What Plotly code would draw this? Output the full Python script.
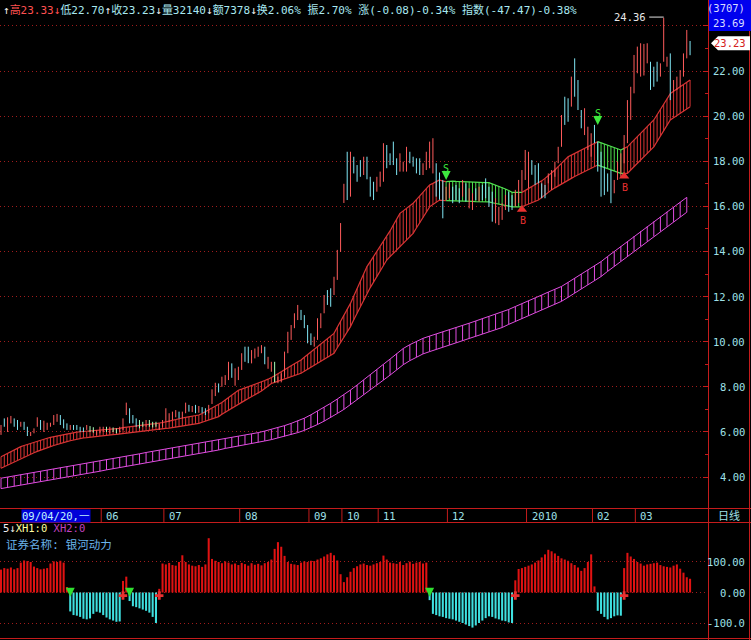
import plotly.graph_objects as go

# ---------------- data ----------------
header_text = ["↑", "高23.33", "↓", "低22.70", "↑", "收23.23", "↓", "量32140", "↓", "额7378",
               "↓", "换2.06%", " 振2.70%", " 涨(-0.08)-0.34%", " 指数(-47.47)-0.38%"]
quote_code = "(3707)"
quote_price = "23.69"
last_close = 23.23
start_label = "09/04/20,一"
period_label = "日线"
panel_title = ["5", "↓", "XH1:0", "XH2:0"]
stock_label = "证券名称: 银河动力"

high = [
    6.31, 6.60, 6.65, 6.71, 6.60, 6.53, 6.45, 6.45, 6.23, 6.00,
    6.16, 6.65, 6.53, 6.50, 6.41, 6.41, 6.75, 6.80, 6.75, 6.56,
    6.38, 6.31, 6.31, 6.31, 6.23, 6.20, 6.31, 6.26, 6.21, 6.09,
    6.23, 6.23, 6.23, 6.23, 6.20, 6.16, 6.23, 6.60, 7.30, 7.05,
    6.75, 6.60, 6.53, 6.45, 6.53, 6.53, 6.45, 6.45, 6.38, 6.53,
    7.05, 6.83, 6.90, 6.97, 6.90, 6.90, 7.30, 7.20, 7.15, 7.20,
    7.15, 7.10, 7.05, 7.20, 7.89, 8.18, 8.15, 8.45, 8.52, 9.11,
    9.04, 8.82, 8.89, 9.49, 9.78, 9.78, 9.63, 9.70, 9.78, 9.85,
    9.78, 9.33, 9.11, 9.11, 8.45, 8.60, 9.56, 10.44, 10.74, 11.26,
    11.63, 11.41, 11.18, 10.74, 10.37, 10.22, 11.04, 11.26, 12.07, 12.29,
    12.37, 12.88, 14.07, 15.26, 17.00, 18.42, 18.42, 18.20, 17.83, 18.05,
    18.20, 18.20, 17.31, 17.09, 17.31, 17.54, 18.80, 18.72, 18.35, 18.87,
    18.13, 18.35, 17.98, 18.64, 18.42, 18.20, 18.13, 18.13, 17.91, 18.42,
    18.87, 19.02, 17.91, 17.50, 17.17, 16.87, 17.02, 16.87, 16.95, 16.80,
    17.17, 17.02, 16.80, 16.58, 16.80, 16.87, 16.95, 17.24, 16.87, 16.65,
    16.36, 15.98, 16.14, 16.50, 16.65, 16.50, 16.73, 17.17, 17.61, 18.50,
    18.42, 18.05, 17.83, 17.91, 17.02, 16.95, 17.46, 17.61, 17.98, 18.64,
    20.05, 20.86, 20.79, 21.75, 22.56, 21.60, 20.27, 20.35, 19.53, 19.24,
    19.61, 18.87, 18.42, 17.76, 17.46, 17.61, 17.17, 17.98, 18.35, 19.16,
    20.71, 21.30, 22.71, 23.08, 23.23, 23.20, 23.23, 22.41, 22.19, 22.41,
    22.34, 24.36, 22.63, 22.78, 21.60, 21.75, 22.04, 22.78, 23.82, 23.33,
]
low = [
    5.87, 6.23, 6.00, 6.38, 6.23, 6.09, 6.23, 6.09, 5.82, 5.82,
    5.94, 6.23, 6.09, 6.00, 6.09, 6.23, 6.31, 6.45, 6.31, 6.16,
    6.09, 6.09, 6.09, 6.09, 6.00, 6.00, 6.09, 6.00, 5.97, 5.87,
    5.94, 6.00, 6.00, 5.94, 6.00, 5.94, 6.00, 6.09, 6.75, 6.38,
    6.38, 6.23, 6.16, 6.23, 6.23, 6.23, 6.20, 6.23, 6.09, 6.23,
    6.45, 6.45, 6.53, 6.65, 6.60, 6.60, 6.83, 6.90, 6.88, 6.83,
    6.85, 6.83, 6.75, 6.83, 7.24, 7.59, 7.75, 8.00, 8.08, 8.30,
    8.40, 8.05, 8.30, 8.75, 9.11, 9.05, 9.04, 9.26, 9.33, 9.49,
    9.00, 8.80, 8.67, 8.20, 8.16, 8.20, 8.45, 9.49, 10.08, 10.60,
    10.96, 10.96, 10.60, 9.93, 9.85, 9.78, 10.08, 10.60, 11.26, 11.63,
    11.55, 12.07, 12.74, 13.98, 16.15, 16.28, 16.43, 17.46, 17.09, 17.31,
    17.39, 17.20, 16.43, 16.28, 16.65, 16.87, 17.09, 17.69, 17.83, 17.83,
    17.39, 17.54, 17.54, 17.54, 17.91, 17.76, 17.46, 17.39, 17.39, 17.61,
    17.69, 17.46, 16.43, 16.30, 15.47, 16.28, 16.36, 16.14, 16.28, 16.14,
    16.43, 16.21, 15.91, 15.84, 16.28, 16.21, 16.28, 16.36, 15.98, 15.32,
    15.25, 15.17, 15.40, 15.84, 15.76, 15.84, 16.00, 16.15, 16.65, 17.17,
    16.80, 17.40, 16.95, 17.02, 16.36, 16.36, 17.02, 16.73, 17.31, 17.91,
    18.64, 19.61, 19.75, 20.42, 20.86, 20.27, 19.46, 19.16, 18.50, 18.20,
    18.80, 17.54, 16.43, 16.50, 16.65, 16.14, 16.58, 17.17, 17.31, 17.91,
    18.80, 19.83, 21.01, 21.90, 21.75, 21.80, 22.34, 21.16, 21.30, 21.53,
    21.75, 22.41, 22.19, 20.71, 21.08, 21.16, 21.30, 21.75, 22.56, 22.70,
]
# r = up bar, c = down bar, g = doji
direction = ("rcrrccrccr" "rrcrrrrrcc" "crccccrggr" "rrgrggrrrc" "ccggrgggrr"
             "rrrrcrrcrc" "rccrrrcrrr" "crrrccrrrr" "crrgrrrrrr" "rccccrrrrc"
             "crrrrcrccc" "rcccrrrccc" "crrrccccrr" "rrcccrrccc" "rcrrcrcccc"
             "rrrrccrrrr" "rcccccrrrr" "rccrcccrrr" "ccccccrrrr" "rrrrrrrccc"
             "rrrcrrrrrc")

rib_top = [
    4.90, 4.98, 5.05, 5.13, 5.20, 5.28, 5.35, 5.40, 5.45, 5.50,
    5.54, 5.59, 5.64, 5.68, 5.72, 5.76, 5.79, 5.83, 5.87, 5.89,
    5.92, 5.94, 5.96, 5.99, 6.01, 6.02, 6.04, 6.05, 6.06, 6.08,
    6.09, 6.10, 6.11, 6.12, 6.14, 6.15, 6.16, 6.19, 6.21, 6.24,
    6.26, 6.29, 6.31, 6.32, 6.33, 6.34, 6.36, 6.37, 6.38, 6.42,
    6.45, 6.49, 6.53, 6.56, 6.60, 6.62, 6.65, 6.67, 6.70, 6.72,
    6.75, 6.82, 6.90, 6.97, 7.05, 7.12, 7.20, 7.31, 7.42, 7.53,
    7.63, 7.74, 7.85, 7.90, 7.95, 8.00, 8.06, 8.11, 8.16, 8.22,
    8.28, 8.34, 8.40, 8.49, 8.58, 8.66, 8.75, 8.84, 8.93, 9.02,
    9.10, 9.19, 9.31, 9.43, 9.54, 9.66, 9.78, 9.90, 10.02, 10.14,
    10.25, 10.37, 10.64, 10.90, 11.17, 11.44, 11.70, 12.03, 12.35, 12.68,
    13.00, 13.33, 13.55, 13.77, 13.99, 14.21, 14.43, 14.65, 14.91, 15.17,
    15.43, 15.69, 15.80, 15.91, 16.03, 16.14, 16.30, 16.46, 16.62, 16.79,
    16.95, 17.02, 17.10, 17.17, 17.12, 17.10, 17.12, 17.12, 17.11, 17.10,
    17.10, 17.09, 17.09, 17.08, 17.07, 17.07, 17.06, 17.05, 17.05, 17.00,
    16.95, 16.90, 16.85, 16.77, 16.70, 16.62, 16.62, 16.62, 16.62, 16.70,
    16.78, 16.86, 16.94, 17.02, 17.13, 17.24, 17.35, 17.46, 17.61, 17.76,
    17.90, 18.05, 18.20, 18.27, 18.35, 18.42, 18.49, 18.57, 18.64, 18.72,
    18.79, 18.87, 18.82, 18.76, 18.71, 18.66, 18.60, 18.55, 18.50, 18.57,
    18.64, 18.79, 18.94, 19.09, 19.24, 19.39, 19.53, 19.68, 19.83, 20.06,
    20.30, 20.53, 20.77, 21.00, 21.10, 21.20, 21.30, 21.40, 21.50, 21.60,
]
rib_bot = [
    4.39, 4.46, 4.54, 4.61, 4.68, 4.76, 4.83, 4.89, 4.95, 5.02,
    5.08, 5.14, 5.20, 5.25, 5.30, 5.35, 5.40, 5.45, 5.50, 5.54,
    5.57, 5.61, 5.65, 5.68, 5.72, 5.74, 5.75, 5.77, 5.79, 5.80,
    5.82, 5.83, 5.85, 5.86, 5.88, 5.89, 5.91, 5.93, 5.94, 5.96,
    5.98, 5.99, 6.01, 6.03, 6.05, 6.06, 6.08, 6.10, 6.12, 6.14,
    6.16, 6.17, 6.19, 6.21, 6.23, 6.26, 6.28, 6.31, 6.33, 6.36,
    6.38, 6.43, 6.48, 6.53, 6.58, 6.63, 6.68, 6.78, 6.87, 6.97,
    7.06, 7.16, 7.25, 7.33, 7.40, 7.48, 7.56, 7.63, 7.71, 7.82,
    7.93, 8.04, 8.15, 8.20, 8.25, 8.30, 8.35, 8.40, 8.45, 8.50,
    8.55, 8.60, 8.69, 8.78, 8.87, 8.96, 9.05, 9.13, 9.22, 9.31,
    9.40, 9.49, 9.73, 9.96, 10.20, 10.43, 10.67, 10.97, 11.26, 11.56,
    11.85, 12.15, 12.40, 12.64, 12.89, 13.13, 13.38, 13.62, 13.77, 13.92,
    14.06, 14.21, 14.36, 14.51, 14.65, 14.80, 15.04, 15.27, 15.51, 15.74,
    15.98, 16.08, 16.18, 16.28, 16.26, 16.25, 16.25, 16.24, 16.24, 16.23,
    16.23, 16.22, 16.22, 16.22, 16.21, 16.21, 16.20, 16.20, 16.20, 16.16,
    16.13, 16.09, 16.05, 16.03, 16.00, 15.98, 15.98, 15.98, 15.98, 16.04,
    16.10, 16.16, 16.22, 16.28, 16.39, 16.51, 16.62, 16.73, 16.82, 16.91,
    16.99, 17.08, 17.17, 17.24, 17.32, 17.39, 17.46, 17.54, 17.61, 17.68,
    17.76, 17.83, 17.78, 17.72, 17.67, 17.62, 17.57, 17.51, 17.46, 17.46,
    17.46, 17.61, 17.75, 17.90, 18.05, 18.20, 18.34, 18.49, 18.64, 18.88,
    19.12, 19.35, 19.59, 19.83, 19.93, 20.03, 20.13, 20.22, 20.32, 20.42,
]
sell_idx = [135, 181]
buy_idx = [158, 189]

# long band, one value every second bar
mag_top = [
    3.95, 4.00, 4.05, 4.11, 4.16, 4.21, 4.26, 4.31, 4.36, 4.41,
    4.47, 4.52, 4.57, 4.62, 4.67, 4.72, 4.78, 4.83, 4.88, 4.93,
    4.98, 5.03, 5.09, 5.14, 5.19, 5.24, 5.29, 5.34, 5.40, 5.45,
    5.50, 5.55, 5.60, 5.65, 5.71, 5.76, 5.81, 5.86, 5.91, 5.97,
    6.04, 6.11, 6.19, 6.28, 6.38, 6.49, 6.61, 6.76, 6.92, 7.09,
    7.27, 7.46, 7.65, 7.86, 8.08, 8.30, 8.53, 8.77, 9.00, 9.23,
    9.47, 9.70, 9.87, 10.02, 10.15, 10.25, 10.34, 10.44, 10.53, 10.63,
    10.73, 10.82, 10.92, 11.02, 11.11, 11.21, 11.30, 11.43, 11.56, 11.68,
    11.81, 11.94, 12.07, 12.20, 12.32, 12.45, 12.63, 12.82, 13.00, 13.18,
    13.37, 13.55, 13.78, 14.00, 14.23, 14.45, 14.68, 14.90, 15.11, 15.33,
    15.54, 15.76, 15.97, 16.19, 16.40,
]
mag_bot = [
    3.49, 3.54, 3.59, 3.65, 3.70, 3.75, 3.80, 3.85, 3.90, 3.95,
    4.01, 4.06, 4.11, 4.16, 4.21, 4.26, 4.32, 4.37, 4.42, 4.47,
    4.52, 4.57, 4.63, 4.68, 4.73, 4.78, 4.83, 4.88, 4.95, 5.00,
    5.05, 5.10, 5.15, 5.20, 5.27, 5.32, 5.37, 5.42, 5.49, 5.54,
    5.60, 5.66, 5.73, 5.80, 5.88, 5.97, 6.07, 6.19, 6.33, 6.48,
    6.64, 6.82, 7.00, 7.21, 7.43, 7.65, 7.86, 8.08, 8.30, 8.52,
    8.76, 8.98, 9.16, 9.32, 9.46, 9.56, 9.66, 9.76, 9.85, 9.95,
    10.05, 10.14, 10.24, 10.34, 10.44, 10.54, 10.63, 10.77, 10.90, 11.02,
    11.15, 11.28, 11.41, 11.54, 11.66, 11.79, 11.97, 12.16, 12.34, 12.52,
    12.71, 12.89, 13.12, 13.34, 13.57, 13.79, 14.02, 14.24, 14.45, 14.67,
    14.88, 15.10, 15.31, 15.53, 15.74,
]

osc = [
    75, 80, 78, 82, 76, 80, 98, 105, 103, 100,
    85, 80, 76, 78, 80, 95, 102, 100, 104, 98,
    18, -62, -74, -76, -80, -86, -88, -85, -70, -63,
    -66, -74, -82, -88, -92, -96, -95, 38, 52, -28,
    -45, -48, -52, -56, -60, -66, -80, -100, 12, 95,
    92, 97, 90, 88, 100, 122, 100, 92, 88, 86,
    90, 84, 92, 178, 110, 104, 100, 96, 102, 98,
    92, 95, 90, 97, 93, 88, 96, 91, 94, 89,
    96, 100, 108, 143, 165, 150, 120, 100, 94, 92,
    90, 98, 102, 100, 104, 103, 108, 112, 118, 125,
    130, 122, 105, 60, 34, 50, 68, 80, 86, 92,
    95, 90, 88, 92, 96, 100, 121, 108, 98, 96,
    94, 100, 90, 96, 101, 94, 98, 100, 95, 98,
    -25, -70, -74, -78, -80, -84, -86, -88, -92, -96,
    -100, -105, -110, -115, -108, -100, -92, -84, -78, -80,
    -85, -88, -92, -94, -98, -100, 40, 77, 80, 84,
    88, 92, 98, 105, 115, 125, 140, 135, 128, 120,
    112, 108, 104, 96, 90, 82, 71, 80, 100, 125,
    20, -60, -70, -80, -88, -84, -78, -75, -76, 80,
    130, 118, 110, 100, 95, 88, 92, 94, 96, 98,
    90, 86, 84, 82, 88, 92, 78, 65, 50, 45,
]
osc_sell_marks = [21, 39, 130]
osc_buy_marks = [37, 48, 156, 189]

month_labels = ["06", "07", "08", "09", "10", "11", "12", "2010", "02", "03"]
month_idx = [31, 50, 73, 94, 104, 115, 136, 160, 180, 193]
price_ticks = [4, 6, 8, 10, 12, 14, 16, 18, 20, 22, 24]
price_minor = [5, 7, 9, 11, 13, 15, 17, 19, 21, 23]
osc_ticks = [-100, 0, 100]
osc_tick_text = ["-100.0", "0.00", "100.00"]

N = len(high)
_lens = {k: len(v) for k, v in dict(low=low, direction=direction, rib_top=rib_top,
                                     rib_bot=rib_bot, osc=osc).items()}
if any(v != N for v in _lens.values()) or len(mag_top) != len(mag_bot):
    raise ValueError(f"length mismatch N={N} {_lens} mag={len(mag_top)},{len(mag_bot)}")

# ---------------- style / geometry ----------------
W, H = 751, 640
PLOT_R = 708
BAR_PX = 3.297
X0 = -1 / BAR_PX
X1 = X0 + PLOT_R / BAR_PX
Y_MAIN = (2.6294, 25.147)
Y_OSC = (-155.7, 231.1)

UP, DOWN, DOJI = "#ff5c5c", "#80e6f4", "#a8ffb8"
RIB_R, RIB_G, MAG = "#d83434", "#4fe04f", "#e04ce0"
OSC_R, OSC_C = "#e01212", "#3fe0e0"
AX_RED, GRID, LABEL = "#c41c1c", "#a01c1c", "#9fe0e8"
MONO = "DejaVu Sans Mono, Noto Sans CJK SC"


def fx(px):
    return px / W


def fy(py):
    return 1 - py / H


def price_px(p):
    return (Y_MAIN[1] - p) / (Y_MAIN[1] - Y_MAIN[0]) * 508


def vsegs(idx, a, b):
    xs, ys = [], []
    for i, lo_, hi_ in zip(idx, a, b):
        xs += [i, i, None]
        ys += [lo_, hi_, None]
    return xs, ys


fig = go.Figure()

# ---- long (magenta) band ----
mag_idx = [2 * k for k in range(len(mag_top))]
xs, ys = vsegs(mag_idx, mag_bot, mag_top)
fig.add_trace(go.Scatter(x=xs, y=ys, mode="lines", line=dict(color=MAG, width=1), hoverinfo="skip"))
for arr in (mag_top, mag_bot):
    fig.add_trace(go.Scatter(x=mag_idx, y=arr, mode="lines", line=dict(color=MAG, width=1), hoverinfo="skip"))

# ---- trend ribbon ----
state = ["g" if any(s <= i < b for s, b in zip(sell_idx, buy_idx)) else "r" for i in range(N)]
for st, col in (("r", RIB_R), ("g", RIB_G)):
    idx = [i for i in range(N) if state[i] == st]
    xs, ys = vsegs(idx, [rib_bot[i] for i in idx], [rib_top[i] for i in idx])
    fig.add_trace(go.Scatter(x=xs, y=ys, mode="lines", line=dict(color=col, width=1), hoverinfo="skip"))
start = 0
for i in range(1, N + 1):
    if i == N or state[i] != state[start]:
        end = min(i, N - 1)
        idx = list(range(start, end + 1))
        col = RIB_G if state[start] == "g" else RIB_R
        for arr in (rib_top, rib_bot):
            fig.add_trace(go.Scatter(x=idx, y=[arr[k] for k in idx], mode="lines",
                                     line=dict(color=col, width=1.2), hoverinfo="skip"))
        start = i

# ---- price bars ----
for code, col in (("r", UP), ("c", DOWN), ("g", DOJI)):
    idx = [i for i in range(N) if direction[i] == code]
    xs, ys = vsegs(idx, [low[i] for i in idx], [high[i] for i in idx])
    fig.add_trace(go.Scatter(x=xs, y=ys, mode="lines", line=dict(color=col, width=1), hoverinfo="skip"))

# ---- sell / buy signals ----
annotations = []
for s in sell_idx:
    top = max(high[s - 1], high[s])
    fig.add_trace(go.Scatter(x=[s], y=[top], mode="markers",
                             marker=dict(symbol="arrow-down", size=9, color="#3ee83e"), hoverinfo="skip"))
    annotations.append(dict(x=s, y=top, xref="x", yref="y", text="S", showarrow=False, yshift=11,
                            font=dict(family=MONO, size=10, color="#3ee83e")))
for b in buy_idx:
    fig.add_trace(go.Scatter(x=[b], y=[rib_bot[b] - 0.12], mode="markers",
                             marker=dict(symbol="triangle-up", size=9, color="#e83030"), hoverinfo="skip"))
    annotations.append(dict(x=b + 0.4, y=rib_bot[b] - 0.12, xref="x", yref="y", text="B", showarrow=False,
                            yshift=-11, font=dict(family=MONO, size=10, color="#e83030")))

# ---- oscillator panel ----
fig.add_trace(go.Bar(x=list(range(N)), y=osc, width=0.62, xaxis="x2", yaxis="y2",
                     marker=dict(color=[OSC_R if v >= 0 else OSC_C for v in osc], line=dict(width=0)),
                     hoverinfo="skip"))
fig.add_trace(go.Scatter(x=osc_sell_marks, y=[-14] * len(osc_sell_marks), xaxis="x2", yaxis="y2",
                         mode="markers", marker=dict(symbol="arrow-down", size=9, color="#30e030"),
                         hoverinfo="skip"))
fig.add_trace(go.Scatter(x=osc_buy_marks, y=[-10] * len(osc_buy_marks), xaxis="x2", yaxis="y2",
                         mode="markers", marker=dict(symbol="cross", size=7, color="#e83030"),
                         hoverinfo="skip"))

# ---- max price marker ----
imax = max(range(N), key=lambda i: high[i])
hmax = high[imax]
shapes = [dict(type="line", xref="x", yref="y", x0=imax - 4.4, x1=imax, y0=hmax + 0.03, y1=hmax + 0.03,
               line=dict(color="#e0e0e0", width=1))]
annotations.append(dict(x=imax - 4.7, y=hmax + 0.05, xref="x", yref="y", text=f"{hmax:.2f}", showarrow=False,
                        xanchor="right", font=dict(family=MONO, size=10.5, color="#e8e8e8")))

# ---- frame lines ----
for x in (PLOT_R + 0.5, 749.5):
    shapes.append(dict(type="line", xref="paper", yref="paper", x0=fx(x), x1=fx(x), y0=0, y1=1,
                       line=dict(color=AX_RED, width=1)))
for y in (508.5, 522.5, 638.5):
    shapes.append(dict(type="line", xref="paper", yref="paper", x0=0, x1=1, y0=fy(y), y1=fy(y),
                       line=dict(color=AX_RED, width=1)))
for m in month_idx:
    shapes.append(dict(type="line", xref="x", yref="paper", x0=m - 0.6, x1=m - 0.6, y0=fy(522), y1=fy(508),
                       line=dict(color=AX_RED, width=1)))

# quote box top right
shapes.append(dict(type="rect", xref="paper", yref="paper", x0=fx(709), x1=fx(751), y0=fy(31), y1=1,
                   fillcolor="#0000ee", line=dict(width=0), layer="above"))
annotations.append(dict(x=fx(747), y=fy(8), xref="paper", yref="paper", text=quote_code, showarrow=False,
                        xanchor="right", font=dict(family=MONO, size=10.5, color="#d8dcff")))
annotations.append(dict(x=fx(747), y=fy(23), xref="paper", yref="paper", text=quote_price, showarrow=False,
                        xanchor="right", font=dict(family=MONO, size=10.5, color="#d8dcff")))
# last price tag
cy = price_px(last_close)
path = (f"M {fx(711)},{fy(cy)} L {fx(718)},{fy(cy - 7)} L {fx(750)},{fy(cy - 7)} "
        f"L {fx(750)},{fy(cy + 7)} L {fx(718)},{fy(cy + 7)} Z")
shapes.append(dict(type="path", xref="paper", yref="paper", path=path, fillcolor="#ffffff",
                   line=dict(width=0), layer="above"))
annotations.append(dict(x=fx(748), y=last_close, xref="paper", yref="y", text=f"{last_close:.2f}",
                        showarrow=False, xanchor="right", font=dict(family=MONO, size=10.5, color="#d42020")))

# price labels
for t in price_ticks[:-1]:
    annotations.append(dict(x=fx(747), y=t, xref="paper", yref="y", text=f"{t:.2f}", showarrow=False,
                            xanchor="right", font=dict(family=MONO, size=10.5, color=LABEL)))
for t, txt in zip(osc_ticks, osc_tick_text):
    annotations.append(dict(x=fx(747), y=t, xref="paper", yref="y2", text=txt, showarrow=False,
                            xanchor="right", font=dict(family=MONO, size=10.5, color=LABEL)))

# header line
hdr_cols = ["#f0f0f0", "#ff5050", "#ff5050", "#a8e8f0", "#f0f0f0", "#a8e8f0", "#f0f0f0", "#a8e8f0",
            "#f0f0f0", "#a8e8f0", "#f0f0f0", "#a8e8f0", "#a8e8f0", "#a8e8f0", "#a8e8f0"]
hdr = "".join(f'<span style="color:{c}">{t}</span>' for t, c in zip(header_text, hdr_cols))
annotations.append(dict(x=fx(1), y=fy(1), xref="paper", yref="paper", text=hdr, showarrow=False,
                        xanchor="left", yanchor="top", font=dict(family=MONO, size=11, color="#a8e8f0")))

# date strip
annotations.append(dict(x=fx(21), y=fy(515.5), xref="paper", yref="paper", text=start_label, showarrow=False,
                        xanchor="left", bgcolor="#0000d8", borderpad=0,
                        font=dict(family=MONO, size=10.5, color="#c0f4ff")))
for m, lab in zip(month_idx, month_labels):
    annotations.append(dict(x=m, y=fy(515.5), xref="x", yref="paper", text=lab, showarrow=False,
                            xanchor="left", xshift=1, font=dict(family=MONO, size=10.5, color=LABEL)))
annotations.append(dict(x=fx(729), y=fy(515.5), xref="paper", yref="paper", text=period_label, showarrow=False,
                        xanchor="center", font=dict(family=MONO, size=11, color=LABEL)))

# oscillator panel titles
pt_cols = ["#f0f0f0", "#f0f0f0", "#ffffa0", "#c040c0"]
pt = "".join(f'<span style="color:{c}">{t}{" " if k == 2 else ""}</span>'
             for k, (t, c) in enumerate(zip(panel_title, pt_cols)))
annotations.append(dict(x=fx(1), y=fy(528), xref="paper", yref="paper", text=pt, showarrow=False,
                        xanchor="left", font=dict(family=MONO, size=10.5, color="#f0f0f0")))
annotations.append(dict(x=fx(4), y=fy(545), xref="paper", yref="paper", text=stock_label, showarrow=False,
                        xanchor="left", font=dict(family=MONO, size=11.5, color="#6ab4ec")))

for a in annotations:
    a.setdefault("yanchor", "middle")
    a.setdefault("xanchor", "center")

axis_common = dict(showgrid=False, zeroline=False, showticklabels=False, showline=False, ticks="")
fig.update_layout(
    width=W, height=H, margin=dict(l=0, r=0, t=0, b=0),
    paper_bgcolor="black", plot_bgcolor="black", showlegend=False, hovermode=False,
    xaxis=dict(domain=[0, fx(PLOT_R)], range=[X0, X1], anchor="y", **axis_common),
    xaxis2=dict(domain=[0, fx(PLOT_R)], range=[X0, X1], anchor="y2", matches="x", **axis_common),
    yaxis=dict(domain=[fy(508), 1], range=list(Y_MAIN), anchor="x", side="right",
               tickvals=price_ticks, showticklabels=False, zeroline=False, showline=False,
               showgrid=True, gridcolor=GRID, gridwidth=1, griddash="1px,3px",
               ticks="inside", ticklen=5, tickcolor=AX_RED,
               minor=dict(tickvals=price_minor, ticks="inside", ticklen=3, tickcolor=AX_RED, showgrid=False)),
    yaxis2=dict(domain=[0, fy(522)], range=list(Y_OSC), anchor="x2", side="right",
                tickvals=osc_ticks, showticklabels=False, zeroline=False, showline=False,
                showgrid=True, gridcolor=GRID, gridwidth=1, griddash="1px,3px", ticks=""),
    shapes=shapes, annotations=annotations,
)

fig.write_html(
    "out.html",
    config={"displayModeBar": False, "staticPlot": True},
    post_script="document.body.style.margin='0';document.body.style.overflow='hidden';"
                "document.documentElement.style.overflow='hidden';",
)
